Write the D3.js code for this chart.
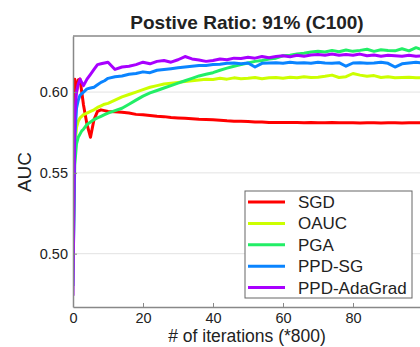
<!DOCTYPE html>
<html>
<head>
<meta charset="utf-8">
<script src="https://cdn.jsdelivr.net/npm/d3@7"></script>
<style>
  body { margin: 0; background: #fff; }
  text { font-family: "Liberation Sans", Arial, sans-serif; fill: #222; }
</style>
</head>
<body>
<div class="chart"></div>
<script>
const iterations = [0, 0.5, 1, 1.5, 2, 2.5, 3, 4, 5, 6, 7, 8, 9, 10,
  12, 14, 16, 18, 20, 22, 24, 26, 28, 30, 32, 34, 36, 38, 40, 42, 44, 46, 48, 50,
  52, 54, 56, 58, 60, 62, 64, 66, 68, 70, 72, 74, 76, 78, 80, 82, 84, 86, 88, 90,
  92, 94, 96, 98, 100];

const sgd = [0.53, 0.608, 0.600, 0.6075, 0.608, 0.600, 0.592, 0.580, 0.572, 0.583, 0.588, 0.589, 0.5885, 0.588,
  0.5878, 0.5875, 0.587, 0.5862, 0.586, 0.5855, 0.585, 0.5848, 0.5842, 0.584, 0.5838, 0.5835, 0.5832, 0.583, 0.5828, 0.5825, 0.5822, 0.582, 0.582, 0.5818,
  0.5815, 0.5815, 0.5812, 0.5812, 0.5812, 0.5811, 0.5812, 0.581, 0.5811, 0.581, 0.581, 0.5811, 0.581, 0.581, 0.581, 0.5809, 0.581, 0.581, 0.5809, 0.581,
  0.581, 0.5809, 0.581, 0.581, 0.581];

const oauc = [0.50, 0.565, 0.578, 0.582, 0.584, 0.585, 0.586, 0.587, 0.588, 0.589, 0.5905, 0.5915, 0.5925, 0.593,
  0.595, 0.597, 0.5985, 0.600, 0.6015, 0.603, 0.604, 0.605, 0.6055, 0.606, 0.6065, 0.607, 0.6075, 0.608, 0.6078, 0.6085, 0.608, 0.6088, 0.6082, 0.6085,
  0.609, 0.6082, 0.6088, 0.609, 0.6085, 0.6092, 0.6088, 0.6095, 0.609, 0.6092, 0.6098, 0.6105, 0.609, 0.6095, 0.6115, 0.6105, 0.6098, 0.6102, 0.609, 0.6095,
  0.6088, 0.609, 0.6092, 0.6088, 0.609];

const pga = [0.49, 0.555, 0.568, 0.572, 0.574, 0.576, 0.577, 0.580, 0.5815, 0.583, 0.584, 0.585, 0.586, 0.587,
  0.5885, 0.590, 0.5925, 0.595, 0.5975, 0.5995, 0.601, 0.6025, 0.604, 0.6055, 0.607, 0.6085, 0.610, 0.611, 0.612, 0.6135, 0.6148, 0.616, 0.617, 0.618,
  0.619, 0.6195, 0.6205, 0.621, 0.6225, 0.6228, 0.6235, 0.624, 0.6248, 0.6252, 0.6248, 0.6258, 0.625, 0.626, 0.6252, 0.6258, 0.6265, 0.6252, 0.6262, 0.6258,
  0.6255, 0.6268, 0.6255, 0.6275, 0.626];

const ppdSg = [0.48, 0.570, 0.590, 0.595, 0.598, 0.599, 0.600, 0.602, 0.6025, 0.603, 0.6045, 0.606, 0.607, 0.6085,
  0.6095, 0.610, 0.611, 0.6115, 0.6125, 0.612, 0.6135, 0.614, 0.6145, 0.615, 0.6155, 0.616, 0.6165, 0.6165, 0.617, 0.6172, 0.6178, 0.618, 0.6175, 0.618,
  0.6155, 0.6178, 0.618, 0.6182, 0.6178, 0.6185, 0.618, 0.6182, 0.6178, 0.6185, 0.618, 0.6178, 0.6182, 0.616, 0.618, 0.6182, 0.6178, 0.618, 0.6185, 0.6178,
  0.6155, 0.6175, 0.618, 0.6185, 0.618];

const ppdAdaGrad = [0.474, 0.585, 0.600, 0.605, 0.608, 0.606, 0.604, 0.608, 0.611, 0.614, 0.617, 0.6175, 0.618, 0.6185,
  0.614, 0.6155, 0.616, 0.617, 0.6185, 0.6175, 0.619, 0.6195, 0.6185, 0.620, 0.622, 0.6205, 0.6198, 0.619, 0.6195, 0.6205, 0.620, 0.621, 0.6208, 0.6215,
  0.621, 0.622, 0.6212, 0.622, 0.6225, 0.6218, 0.6228, 0.6222, 0.623, 0.6232, 0.6228, 0.6235, 0.6228, 0.6232, 0.6228, 0.6235, 0.6225, 0.623, 0.6222, 0.6228,
  0.6225, 0.6222, 0.6228, 0.6222, 0.6225];

const seriesNames = ["SGD", "OAUC", "PGA", "PPD-SG", "PPD-AdaGrad"];
const seriesColors = ["#ff0000", "#ccff00", "#22ee66", "#0a84ff", "#a800ff"];
const seriesValues = [sgd, oauc, pga, ppdSg, ppdAdaGrad];

const xTicks = [0, 20, 40, 60, 80];
const yTicks = [0.50, 0.55, 0.60];

const w = 420;
const h = 347;
const plotLeft = 73, plotTop = 36, plotRight = 423, plotBottom = 307;

const svg = d3.select(".chart")
              .append("svg")
              .attr("width", w)
              .attr("height", h);

const xScale = d3.scaleLinear().domain([0, 100]).range([plotLeft, plotRight]);
const yScale = d3.scaleLinear().domain([0.467, 0.6347]).range([plotBottom, plotTop]);

svg.append("defs").append("clipPath").attr("id", "plot-clip")
   .append("rect")
   .attr("x", plotLeft).attr("y", plotTop)
   .attr("width", plotRight - plotLeft).attr("height", plotBottom - plotTop);

// grid lines
svg.append("g")
   .selectAll("line")
   .data(yTicks)
   .enter()
   .append("line")
   .attr("x1", plotLeft)
   .attr("x2", plotRight)
   .attr("y1", d => yScale(d))
   .attr("y2", d => yScale(d))
   .attr("stroke", "#e3e3e3")
   .attr("stroke-width", 1);

// series
const line = d3.line()
               .x((d, i) => xScale(iterations[i]))
               .y(d => yScale(d));

svg.append("g")
   .attr("clip-path", "url(#plot-clip)")
   .selectAll("path")
   .data(seriesValues)
   .enter()
   .append("path")
   .attr("d", d => line(d))
   .attr("fill", "none")
   .attr("stroke", (d, i) => seriesColors[i])
   .attr("stroke-width", 3)
   .attr("stroke-linejoin", "round");

// axes
const xAxis = d3.axisBottom(xScale).tickValues(xTicks).tickSizeInner(-4).tickSizeOuter(0).tickPadding(6);
const yAxis = d3.axisLeft(yScale).tickValues(yTicks).tickFormat(d3.format(".2f")).tickSizeInner(-4).tickSizeOuter(0).tickPadding(5);

const gx = svg.append("g")
   .attr("transform", "translate(0," + plotBottom + ")")
   .call(xAxis);
const gy = svg.append("g")
   .attr("transform", "translate(" + plotLeft + ",0)")
   .call(yAxis);

[gx, gy].forEach(g => {
  g.select(".domain").attr("stroke", "#888").attr("stroke-width", 1.5);
  g.selectAll(".tick line").attr("stroke", "#888");
  g.selectAll(".tick text")
   .attr("fill", "#222")
   .style("font-size", "14.5px")
   .style("font-family", "'Liberation Sans', Arial, sans-serif");
});

// top frame
svg.append("line")
   .attr("x1", plotLeft).attr("x2", plotRight)
   .attr("y1", plotTop).attr("y2", plotTop)
   .attr("stroke", "#888").attr("stroke-width", 1.5);

// title and labels
svg.append("text")
   .attr("x", 247)
   .attr("y", 29)
   .attr("text-anchor", "middle")
   .style("font-size", "19px")
   .style("font-weight", "bold")
   .text("Postive Ratio: 91% (C100)");

svg.append("text")
   .attr("x", 247)
   .attr("y", 342)
   .attr("text-anchor", "middle")
   .style("font-size", "17.5px")
   .text("# of iterations (*800)");

svg.append("text")
   .attr("transform", "translate(31,172) rotate(-90)")
   .attr("text-anchor", "middle")
   .style("font-size", "19px")
   .text("AUC");

// legend
const legend = svg.append("g").attr("transform", "translate(245,191)");
legend.append("rect")
      .attr("width", 167)
      .attr("height", 107)
      .attr("fill", "#fff")
      .attr("stroke", "#666")
      .attr("stroke-width", 1);

const rows = legend.selectAll("g.row")
      .data(seriesNames)
      .enter()
      .append("g")
      .attr("class", "row")
      .attr("transform", (d, i) => "translate(0," + (11 + i * 21.4) + ")");

rows.append("line")
    .attr("x1", 3).attr("x2", 40)
    .attr("stroke", (d, i) => seriesColors[i])
    .attr("stroke-width", 3);

rows.append("text")
    .attr("x", 53)
    .attr("dy", "0.35em")
    .style("font-size", "17px")
    .text(d => d);
</script>
</body>
</html>
